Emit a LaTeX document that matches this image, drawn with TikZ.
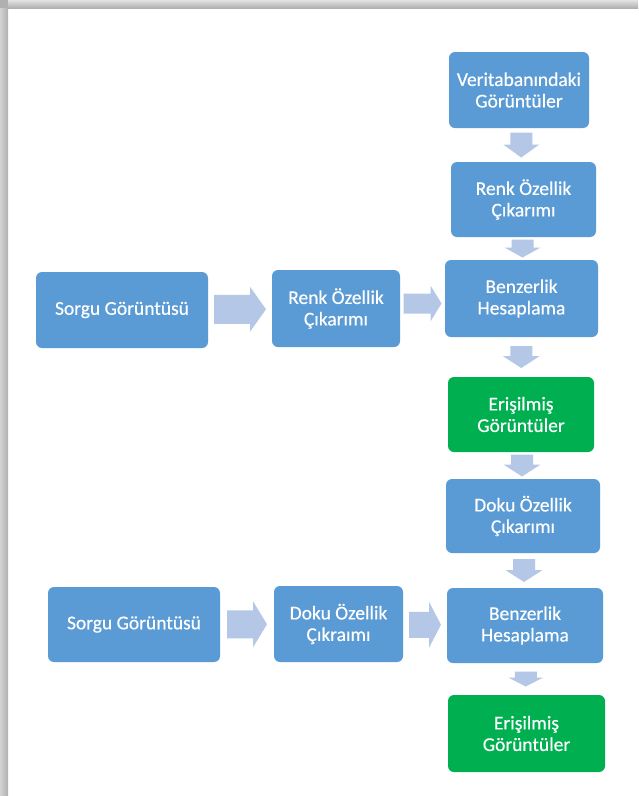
\documentclass[tikz,border=0pt]{standalone}
\usepackage{fontspec}
\setmainfont{Carlito}
\newfontfamily\boxfont[FakeBold=0.35]{Carlito}
\usetikzlibrary{calc}
\definecolor{boxblue}{HTML}{5B9BD5}
\definecolor{boxgreen}{HTML}{00B050}
\definecolor{arrowblue}{HTML}{B4C7E7}
\definecolor{shadowlight}{HTML}{E2E2E2}
\definecolor{shadowdark}{HTML}{B0B0B0}

\tikzset{
  box/.style={rectangle, rounded corners=6pt, fill=boxblue, text=white,
    align=center, inner sep=0pt,
    font=\boxfont\fontsize{19.5}{21.5}\selectfont},
  greenbox/.style={box, fill=boxgreen},
  % downward block arrow: length / shaft width / head width / head length
  pics/vblock/.style args={#1/#2/#3/#4}{code={
    \fill[arrowblue] (-#2/2,-#1/2) -- (#2/2,-#1/2) -- (#2/2,#1/2-#4)
      -- (#3/2,#1/2-#4) -- (0,#1/2) -- (-#3/2,#1/2-#4)
      -- (-#2/2,#1/2-#4) -- cycle;}},
  % rightward block arrow: length / shaft width / head width / head length
  pics/hblock/.style args={#1/#2/#3/#4}{code={
    \fill[arrowblue] (-#1/2,-#2/2) -- (-#1/2,#2/2) -- (#1/2-#4,#2/2)
      -- (#1/2-#4,#3/2) -- (#1/2,0) -- (#1/2-#4,-#3/2)
      -- (#1/2-#4,-#2/2) -- cycle;}}
}

\begin{document}
\begin{tikzpicture}[x=1pt,y=-1pt]
\useasboundingbox (0,0) rectangle (638,796);
% page panel with its shadow on the top and left edges
\fill[white] (0,0) rectangle (638,796);
\shade[top color=shadowlight, bottom color=shadowdark] (0,0) rectangle (638,8);
\shade[left color=shadowlight!70!shadowdark, right color=shadowdark] (0,8) rectangle (8,796);
\fill[shadowdark] (0,0) rectangle (8,8);

% right column
\node[box, minimum width=140pt, minimum height=76pt] (vt) at (519,90)
  {Veritabanındaki\\Görüntüler};
\node[box, minimum width=145pt, minimum height=75pt] (renkR) at (523.5,199.5)
  {Renk Özellik\\Çıkarımı};
\node[box, minimum width=153pt, minimum height=77pt] (benz1) at (521.5,298.5)
  {Benzerlik\\Hesaplama};
\node[greenbox, minimum width=146pt, minimum height=75pt] (eris1) at (521,414.5)
  {Erişilmiş\\Görüntüler};
\node[box, minimum width=154pt, minimum height=74pt] (dokuR) at (523,516)
  {Doku Özellik\\Çıkarımı};
\node[box, minimum width=156pt, minimum height=75pt] (benz2) at (525,625.5)
  {Benzerlik\\Hesaplama};
\node[greenbox, minimum width=157pt, minimum height=77pt] (eris2) at (526.5,733.5)
  {Erişilmiş\\Görüntüler};

% query rows
\node[box, minimum width=172pt, minimum height=76pt] (sorgu1) at (122,310)
  {Sorgu Görüntüsü};
\node[box, minimum width=128pt, minimum height=77pt] (renkL) at (336,308.5)
  {Renk Özellik\\Çıkarımı};
\node[box, minimum width=172pt, minimum height=75pt] (sorgu2) at (134,624.5)
  {Sorgu Görüntüsü};
\node[box, minimum width=129pt, minimum height=76pt] (dokuL) at (338.5,624)
  {Doku Özellik\\Çıkraımı};

% vertical block arrows
\pic at ($(vt.south)!0.5!(renkR.north)$) {vblock=25/22/36/13};
\pic at ($(renkR.south)!0.5!(benz1.north)$) {vblock=18/22/36/10};
\pic at ($(benz1.south)!0.5!(eris1.north)$) {vblock=22/22/37/12};
\pic at ($(eris1.south)!0.5!(dokuR.north)$) {vblock=22/22/37/12};
\pic at ($(dokuR.south)!0.5!(benz2.north)$) {vblock=23/22/37/12};
\pic at ($(benz2.south)!0.5!(eris2.north)$) {vblock=15/22/35/9};

% horizontal block arrows
\pic at ($(sorgu1.east)!0.5!(renkL.west)$) {hblock=52/29/45/16};
\pic at ($(renkL.east)!0.5!(benz1.west)$) {hblock=38/20/36/11};
\pic at ($(sorgu2.east)!0.5!(dokuL.west)$) {hblock=40/28/46/14};
\pic at ($(dokuL.east)!0.5!(benz2.west)$) {hblock=32/26/46/12};
\end{tikzpicture}
\end{document}
